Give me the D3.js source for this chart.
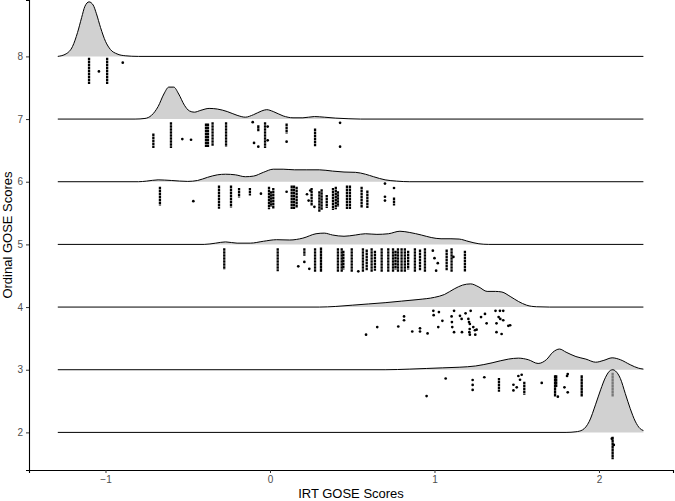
<!DOCTYPE html>
<html>
<head>
<meta charset="utf-8">
<script src="https://cdn.jsdelivr.net/npm/d3@7"></script>
<style>
  body { margin: 0; background: #fff; }
  text { font-family: "Liberation Sans", Arial, Helvetica, sans-serif; }
</style>
</head>
<body>
<svg id="chart"></svg>
<script>
let width = 675,
    height = 501;

// ordinal GOSE groups (drawn top to bottom)
let groups = [8, 7, 6, 5, 4, 3, 2];
let xTicks = [-1, 0, 1, 2];
let yTicks = [2, 3, 4, 5, 6, 7, 8];
let xTitle = "IRT GOSE Scores";
let yTitle = "Ordinal GOSE Scores";

// density heights: [irt score, height in ordinal units]
let dens8 = [[-1.29,0],[-1.24,0.04],[-1.20,0.16],[-1.17,0.38],[-1.145,0.62],[-1.125,0.80],[-1.10,0.87],[-1.075,0.82],[-1.055,0.68],[-1.03,0.46],[-1.00,0.24],[-0.97,0.11],[-0.93,0.04],[-0.88,0.01],[-0.80,0]];
let dens7 = [[-0.82,0],[-0.76,0.01],[-0.72,0.06],[-0.68,0.20],[-0.645,0.40],[-0.615,0.51],[-0.585,0.51],[-0.555,0.40],[-0.52,0.22],[-0.49,0.13],[-0.46,0.11],[-0.42,0.14],[-0.37,0.17],[-0.32,0.16],[-0.26,0.12],[-0.20,0.06],[-0.15,0.03],[-0.10,0.07],[-0.05,0.13],[-0.02,0.15],[0.02,0.12],[0.08,0.05],[0.14,0.02],[0.20,0.02],[0.27,0.04],[0.33,0.03],[0.40,0.015],[0.48,0.005],[0.55,0]];
let dens6 = [[-0.80,0],[-0.75,0.01],[-0.68,0.03],[-0.60,0.02],[-0.50,0.005],[-0.44,0.02],[-0.38,0.07],[-0.32,0.11],[-0.27,0.12],[-0.21,0.11],[-0.15,0.08],[-0.10,0.09],[-0.04,0.15],[0.02,0.20],[0.08,0.20],[0.15,0.19],[0.22,0.19],[0.30,0.19],[0.38,0.17],[0.45,0.155],[0.52,0.15],[0.58,0.12],[0.63,0.08],[0.70,0.03],[0.77,0.01],[0.85,0]];
let dens5 = [[-0.40,0],[-0.33,0.02],[-0.27,0.04],[-0.20,0.02],[-0.12,0.02],[-0.04,0.05],[0.04,0.075],[0.12,0.07],[0.20,0.10],[0.28,0.17],[0.33,0.18],[0.38,0.15],[0.45,0.13],[0.52,0.15],[0.58,0.17],[0.65,0.16],[0.72,0.17],[0.79,0.21],[0.85,0.19],[0.92,0.15],[0.98,0.11],[1.04,0.09],[1.10,0.09],[1.15,0.085],[1.21,0.045],[1.27,0.01],[1.33,0]];
let dens4 = [[0.30,0],[0.40,0.01],[0.50,0.03],[0.60,0.05],[0.70,0.07],[0.80,0.095],[0.90,0.12],[1.00,0.155],[1.06,0.20],[1.12,0.29],[1.17,0.35],[1.22,0.37],[1.27,0.32],[1.32,0.25],[1.37,0.25],[1.41,0.24],[1.46,0.17],[1.51,0.09],[1.56,0.03],[1.62,0.005],[1.70,0]];
let dens3 = [[0.70,0],[0.85,0.01],[0.95,0.02],[1.05,0.03],[1.15,0.04],[1.25,0.06],[1.35,0.11],[1.45,0.17],[1.51,0.185],[1.57,0.16],[1.63,0.10],[1.68,0.16],[1.72,0.28],[1.76,0.33],[1.80,0.28],[1.86,0.21],[1.92,0.17],[1.98,0.12],[2.03,0.15],[2.08,0.19],[2.13,0.16],[2.19,0.08],[2.24,0.025],[2.27,0.01]];
let dens2 = [[1.80,0],[1.86,0.01],[1.90,0.04],[1.94,0.17],[1.98,0.45],[2.01,0.68],[2.04,0.88],[2.07,0.99],[2.085,1.00],[2.10,0.98],[2.13,0.86],[2.16,0.62],[2.19,0.38],[2.22,0.18],[2.25,0.06],[2.27,0.03]];

// single jittered points: [irt score, drop below the ridge baseline]
let pts8 = [[-1.04,0.24],[-0.895,0.10]];
let pts7 = [[-0.533,0.32],[-0.48,0.33],[-0.105,0.05],[-0.097,0.38],[-0.071,0.44],[-0.014,0.12],[-0.014,0.34],[0.101,0.36],[0.426,0.06],[0.426,0.44]];
let pts6 = [[-0.466,0.31],[-0.055,0.19],[0.101,0.16],[0.225,0.20],[0.235,0.30],[0.245,0.14],[0.27,0.40],[0.699,0.03],[0.699,0.24],[0.699,0.30],[0.754,0.10]];
let pts5 = [[0.172,0.35],[0.209,0.28],[0.239,0.39],[0.537,0.43],[0.99,0.10],[1.0,0.22],[1.02,0.30],[1.01,0.42],[1.115,0.20]];
let pts4 = [[0.584,0.44],[0.652,0.32],[0.78,0.31],[0.815,0.15],[0.815,0.21],[0.865,0.39],[0.912,0.34],[0.912,0.39],[0.958,0.42],[0.993,0.06],[0.995,0.13],[1.023,0.32],[1.027,0.08],[1.048,0.22],[1.104,0.15],[1.106,0.24],[1.108,0.32],[1.119,0.06],[1.119,0.40],[1.155,0.14],[1.165,0.19],[1.167,0.40],[1.189,0.10],[1.206,0.19],[1.21,0.24],[1.220,0.06],[1.215,0.27],[1.214,0.35],[1.212,0.40],[1.215,0.44],[1.236,0.32],[1.246,0.37],[1.248,0.44],[1.256,0.36],[1.283,0.16],[1.307,0.11],[1.317,0.26],[1.371,0.06],[1.377,0.26],[1.377,0.40],[1.39,0.16],[1.408,0.43],[1.398,0.06],[1.418,0.06],[1.40,0.19],[1.418,0.21],[1.449,0.30],[1.46,0.29]];
let pts3 = [[0.952,0.42],[1.068,0.14],[1.232,0.164],[1.232,0.243],[1.232,0.323],[1.303,0.12],[1.48,0.24],[1.48,0.33],[1.50,0.28],[1.51,0.10],[1.53,0.08],[1.52,0.16],[1.652,0.21],[1.806,0.10],[1.81,0.07],[1.79,0.28],[1.81,0.36],[1.75,0.43]];
let pts2 = [[2.078,0.10],[2.09,0.20]];

// stacks of tied scores: [irt score, top drop, bottom drop]
let cols8 = [[-1.10,0.02,0.44],[-0.99,0.02,0.44]];
let cols7 = [[-0.709,0.23,0.46],[-0.602,0.05,0.46],[-0.389,0.07,0.45],[-0.377,0.07,0.45],[-0.349,0.05,0.43],[-0.267,0.05,0.44],[-0.071,0.10,0.20],[-0.03,0.05,0.46],[0.101,0.07,0.23],[0.274,0.15,0.44]];
let cols6 = [[-0.669,0.08,0.38],[-0.31,0.06,0.43],[-0.237,0.06,0.41],[-0.188,0.10,0.25],[-0.122,0.10,0.22],[-0.006,0.08,0.44],[0.006,0.15,0.40],[0.02,0.10,0.43],[0.132,0.06,0.44],[0.146,0.06,0.44],[0.162,0.08,0.42],[0.253,0.10,0.38],[0.30,0.15,0.48],[0.314,0.12,0.45],[0.345,0.21,0.42],[0.383,0.10,0.45],[0.40,0.08,0.44],[0.413,0.15,0.40],[0.468,0.06,0.44],[0.486,0.06,0.44],[0.557,0.08,0.42],[0.592,0.14,0.42],[0.754,0.25,0.38]];
let cols5 = [[-0.278,0.06,0.40],[0.047,0.06,0.43],[0.209,0.06,0.18],[0.274,0.06,0.44],[0.31,0.05,0.44],[0.413,0.06,0.44],[0.436,0.06,0.44],[0.446,0.10,0.40],[0.497,0.06,0.44],[0.565,0.06,0.44],[0.588,0.08,0.42],[0.618,0.06,0.44],[0.638,0.10,0.42],[0.679,0.06,0.44],[0.719,0.06,0.44],[0.748,0.06,0.44],[0.763,0.10,0.40],[0.778,0.06,0.44],[0.80,0.06,0.44],[0.82,0.06,0.44],[0.84,0.10,0.40],[0.881,0.06,0.44],[0.912,0.08,0.42],[0.942,0.06,0.44],[1.074,0.08,0.42],[1.104,0.06,0.44],[1.185,0.10,0.44]];
let cols4 = [];
let cols3 = [[1.392,0.13,0.35],[1.546,0.19,0.40],[1.733,0.09,0.43],[1.74,0.09,0.28],[1.895,0.09,0.43],[2.083,0.05,0.43]];
let cols2 = [[2.083,0.07,0.43]];

let densities = [dens8, dens7, dens6, dens5, dens4, dens3, dens2];
let points = [pts8, pts7, pts6, pts5, pts4, pts3, pts2];
let stacks = [cols8, cols7, cols6, cols5, cols4, cols3, cols2];
let ridgeRange = [-1.29, 2.27];

let margin = {left: 29, right: 2, top: 0, bottom: 31};

let x = d3.scaleLinear()
    .domain([-1.465, 2.45])
    .range([margin.left, width - margin.right]);

let y = d3.scaleLinear()
    .domain([1.4, 8.9])
    .range([height - margin.bottom, margin.top]);

let svg = d3.select('#chart')
    .attr('width', width)
    .attr('height', height);

// jittered raw scores sit under each ridge
let pointLayer = svg.append('g');

groups.forEach(function(g, i) {
    pointLayer.selectAll('line.stack' + g)
        .data(stacks[i])
        .enter()
        .append('line')
        .attr('x1', function(d) { return x(d[0]); })
        .attr('x2', function(d) { return x(d[0]); })
        .attr('y1', function(d) { return y(g - d[1]); })
        .attr('y2', function(d) { return y(g - d[2]); })
        .style('stroke', '#000')
        .style('stroke-width', 2.3)
        .style('stroke-dasharray', '2.6,0.4');

    pointLayer.selectAll('circle.pt' + g)
        .data(points[i])
        .enter()
        .append('circle')
        .attr('cx', function(d) { return x(d[0]); })
        .attr('cy', function(d) { return y(g - d[1]); })
        .attr('r', 1.35)
        .style('fill', '#000');
});

// ridges, top group first so lower ones overlap
let ridgeLayer = svg.append('g');

groups.forEach(function(g, i) {
    let dd = densities[i].slice();
    if (dd[0][0] > ridgeRange[0]) dd.unshift([ridgeRange[0], 0]);
    if (dd[dd.length - 1][0] < ridgeRange[1]) dd.push([ridgeRange[1], 0]);

    let area = d3.area()
        .curve(d3.curveMonotoneX)
        .x(function(d) { return x(d[0]); })
        .y0(y(g))
        .y1(function(d) { return y(g + d[1]); });

    let line = d3.line()
        .curve(d3.curveMonotoneX)
        .x(function(d) { return x(d[0]); })
        .y(function(d) { return y(g + d[1]); });

    ridgeLayer.append('path')
        .datum(dd)
        .attr('d', area)
        .style('fill', '#b8b8b8')
        .style('fill-opacity', 0.65)
        .style('stroke', 'none');

    ridgeLayer.append('path')
        .datum(dd)
        .attr('d', line)
        .style('fill', 'none')
        .style('stroke', '#000')
        .style('stroke-width', 1);
});

// axes
let xAxis = d3.axisBottom(x)
    .tickValues(xTicks)
    .tickSize(3)
    .tickPadding(3)
    .tickFormat(d3.format('d'));

let yAxis = d3.axisLeft(y)
    .tickValues(yTicks)
    .tickSize(3)
    .tickPadding(3)
    .tickFormat(d3.format('d'));

let gx = svg.append('g')
    .attr('transform', 'translate(0,' + (height - margin.bottom) + ')')
    .call(xAxis);

let gy = svg.append('g')
    .attr('transform', 'translate(' + margin.left + ',0)')
    .call(yAxis);

[gx, gy].forEach(function(ax) {
    ax.select('.domain').style('stroke', '#000').style('stroke-width', 1.1);
    ax.selectAll('.tick line').style('stroke', '#333').style('stroke-width', 1);
    ax.selectAll('.tick text')
        .style('font-size', '10px')
        .style('fill', '#4d4d4d')
        .style('font-family', '"Liberation Sans", Arial, sans-serif');
});

svg.append('text')
    .attr('x', (margin.left + width - margin.right) / 2)
    .attr('y', 498)
    .attr('text-anchor', 'middle')
    .style('font-size', '13px')
    .style('fill', '#000')
    .text(xTitle);

svg.append('text')
    .attr('transform', 'translate(12,' + (height - margin.bottom) / 2 + ') rotate(-90)')
    .attr('text-anchor', 'middle')
    .style('font-size', '13px')
    .style('fill', '#000')
    .text(yTitle);
</script>
</body>
</html>
